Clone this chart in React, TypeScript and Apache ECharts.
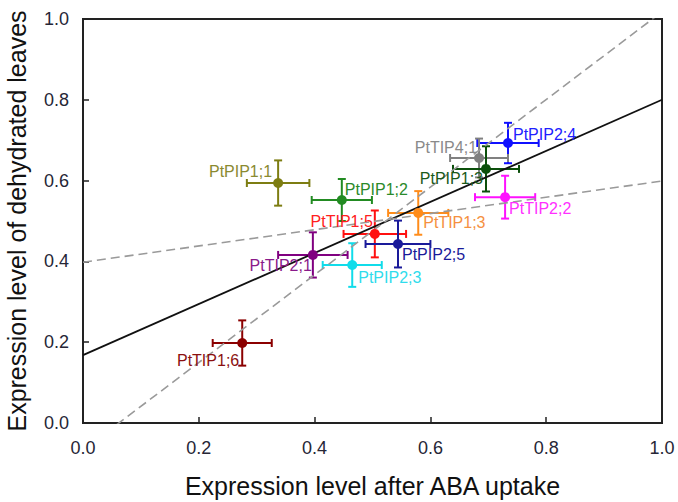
import React, { useEffect, useRef } from "react";
import * as echarts from "echarts";

// Genes and their expression values
const categories = [
  "PtPIP1;1", "PtPIP1;2", "PtTIP1;5", "PtPIP2;5", "PtTIP2;1", "PtPIP2;3",
  "PtTIP1;6", "PtPIP2;4", "PtTIP4;1", "PtPIP1;3", "PtTIP2;2", "PtTIP1;3",
];
const xValues = [0.337, 0.447, 0.504, 0.544, 0.397, 0.465, 0.275, 0.734, 0.684, 0.696, 0.729, 0.579];
const yValues = [0.594, 0.552, 0.468, 0.443, 0.416, 0.391, 0.198, 0.693, 0.656, 0.629, 0.559, 0.520];
const xErrors = [0.054, 0.052, 0.054, 0.056, 0.060, 0.051, 0.051, 0.053, 0.050, 0.057, 0.052, 0.052];
const yErrors = [0.056, 0.052, 0.058, 0.058, 0.056, 0.054, 0.056, 0.050, 0.048, 0.056, 0.053, 0.054];

// Fitted line and its bounds: [intercept, slope]
const fitLine = [0.168, 0.632];
const upperBound = [-0.0673, 1.085];
const lowerBound = [0.398, 0.201];

const xTicks = [0, 0.2, 0.4, 0.6, 0.8, 1.0];

// Styling
const colors = [
  "#7d7d12", "#228b22", "#ff1010", "#1a1a9a", "#800080", "#10dcea",
  "#8b0000", "#1010ff", "#808080", "#0b4f0b", "#ff10ff", "#ff8c1a",
];
const labelColors = [
  "#8a8a30", "#2a8a2a", "#ff2020", "#1a1a9a", "#8a1a8a", "#30dcec",
  "#8b1010", "#2020ff", "#8a8a8a", "#1a5a1a", "#ff30ff", "#f59040",
];
// label layout: [align, dx, dy]
const labelLayout: [string, number, number][] = [
  ["right", -6, -12],
  ["left", 3, -10],
  ["right", -2, -12],
  ["left", 4, 10],
  ["right", -1, 11],
  ["left", 6, 12],
  ["right", -3, 17],
  ["left", 5, -9],
  ["right", -2, -10],
  ["right", -3, 10],
  ["left", 4, 11],
  ["left", 5, 10],
];

const lineData = (p: number[]) => [
  [xTicks[0], p[0] + p[1] * xTicks[0]],
  [xTicks[xTicks.length - 1], p[0] + p[1] * xTicks[xTicks.length - 1]],
];

export default function App() {
  const ref = useRef<HTMLDivElement>(null);
  useEffect(() => {
    if (!ref.current) return;
    const chart = echarts.init(ref.current, null, { renderer: "svg" });
    const font = "Liberation Sans, Arial, sans-serif";
    const axisCommon = {
      min: 0,
      max: 1,
      interval: 0.2,
      axisLine: { show: true, onZero: false, lineStyle: { color: "#222", width: 2 } },
      axisTick: { show: true, inside: true, length: 6, lineStyle: { color: "#222", width: 1.5 } },
      splitLine: { show: false },
      axisLabel: {
        fontSize: 18,
        color: "#262636",
        fontFamily: font,
        formatter: (v: number) => v.toFixed(1),
      },
      nameLocation: "middle",
      nameTextStyle: { fontSize: 25, color: "#111", fontFamily: font },
    };
    chart.setOption({
      animation: false,
      backgroundColor: "#fff",
      grid: {
        left: 83,
        right: 16,
        top: 19,
        bottom: 79,
        show: true,
        borderColor: "#222",
        borderWidth: 2,
        backgroundColor: "transparent",
        containLabel: false,
        outerBoundsMode: "none",
      },
      xAxis: {
        ...axisCommon,
        type: "value",
        name: "Expression level after ABA uptake",
        nameGap: 50,
        axisLabel: { ...axisCommon.axisLabel, margin: 16 },
      },
      yAxis: {
        ...axisCommon,
        type: "value",
        name: "Expression level of dehydrated leaves",
        nameGap: 54,
        axisLabel: { ...axisCommon.axisLabel, margin: 14 },
      },
      series: [
        {
          type: "line",
          data: lineData(fitLine),
          symbol: "none",
          lineStyle: { color: "#111", width: 1.8 },
          silent: true,
          clip: true,
        },
        {
          type: "line",
          data: lineData(upperBound),
          symbol: "none",
          lineStyle: { color: "#9a9a9a", width: 1.6, type: [9, 5] },
          silent: true,
          clip: true,
        },
        {
          type: "line",
          data: lineData(lowerBound),
          symbol: "none",
          lineStyle: { color: "#9a9a9a", width: 1.6, type: [9, 5] },
          silent: true,
          clip: true,
        },
        {
          type: "custom",
          encode: { x: 0, y: 1 },
          data: categories.map((_, i) => [xValues[i], yValues[i], xErrors[i], yErrors[i]]),
          renderItem: (params: any, api: any) => {
            const x = api.value(0);
            const y = api.value(1);
            const ex = api.value(2);
            const ey = api.value(3);
            const c = colors[params.dataIndex];
            const l = api.coord([x - ex, y]);
            const r = api.coord([x + ex, y]);
            const t = api.coord([x, y + ey]);
            const b = api.coord([x, y - ey]);
            const cap = 4;
            const style = { stroke: c, lineWidth: 2 };
            const ln = (x1: number, y1: number, x2: number, y2: number) => ({
              type: "line",
              shape: { x1, y1, x2, y2 },
              style,
            });
            return {
              type: "group",
              children: [
                ln(l[0], l[1], r[0], r[1]),
                ln(t[0], t[1], b[0], b[1]),
                ln(l[0], l[1] - cap, l[0], l[1] + cap),
                ln(r[0], r[1] - cap, r[0], r[1] + cap),
                ln(t[0] - cap, t[1], t[0] + cap, t[1]),
                ln(b[0] - cap, b[1], b[0] + cap, b[1]),
              ],
            };
          },
          z: 3,
        },
        {
          type: "scatter",
          symbol: "circle",
          symbolSize: 10,
          z: 4,
          data: categories.map((name, i) => ({
            name,
            value: [xValues[i], yValues[i]],
            itemStyle: { color: colors[i], opacity: 1 },
            label: {
              show: true,
              formatter: name,
              position: "inside",
              align: labelLayout[i][0],
              verticalAlign: "middle",
              offset: [labelLayout[i][1], labelLayout[i][2]],
              color: labelColors[i],
              fontSize: 16,
              fontFamily: font,
            },
          })),
        },
      ],
    });
    return () => chart.dispose();
  }, []);
  return (
    <div
      ref={ref}
      style={{ position: "fixed", left: 0, top: 0, width: 678, height: 502, background: "#fff" }}
    />
  );
}
